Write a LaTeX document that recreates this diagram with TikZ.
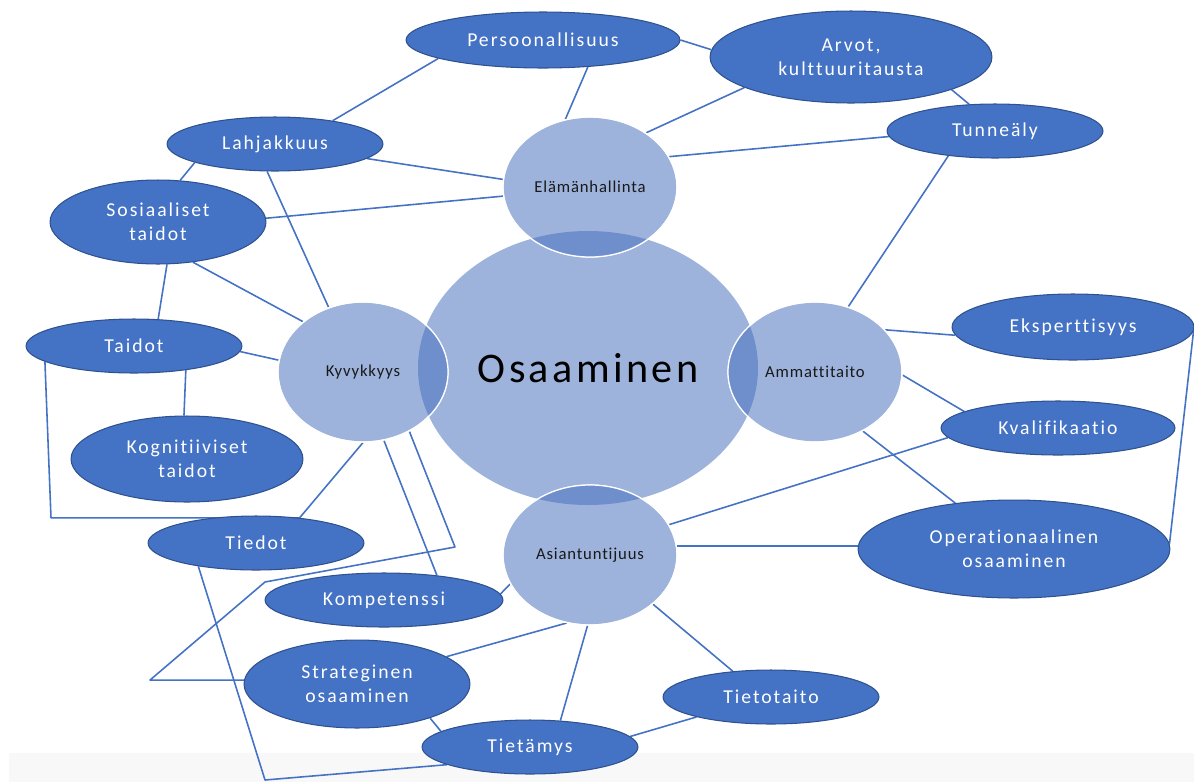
\documentclass[tikz,border=0pt]{standalone}
\usepackage{fontspec}
\setmainfont{Carlito}[Ligatures=NoCommon]
\newfontfamily\spacedfont{Carlito}[LetterSpace=10, Ligatures=NoCommon]
\newfontfamily\titlefont{Carlito}[LetterSpace=8, Ligatures=NoCommon]
\newfontfamily\areafont{Carlito}[LetterSpace=5, Ligatures=NoCommon]
\usetikzlibrary{shapes.geometric,backgrounds}
\definecolor{topicblue}{HTML}{4472C4}
\definecolor{topicedge}{HTML}{2F528F}
\definecolor{venn}{RGB}{158,179,220}
\definecolor{venndark}{RGB}{111,143,204}
\definecolor{band}{RGB}{248,248,248}
\begin{document}
\begin{tikzpicture}[x=0.02cm,y=-0.02cm,
  topic/.style 2 args={ellipse, inner sep=0pt, fill=topicblue, draw=topicedge,
    line width=0.6pt, text=white, align=center,
    minimum width=#1*0.04cm, minimum height=#2*0.04cm,
    font=\spacedfont\fontsize{11.2}{13.6}\selectfont},
  area/.style 2 args={ellipse, inner sep=0pt, fill=venn, draw=white,
    line width=0.7pt, text=black!90, align=center,
    minimum width=#1*0.04cm, minimum height=#2*0.04cm,
    font=\areafont\fontsize{9.5}{11}\selectfont},
  conn/.style={draw=topicblue, line width=0.9pt, line join=round}
]
\useasboundingbox (0,0) rectangle (1194,782);

% central Venn of competence areas
\node[area={170}{137}, draw=none, text=black,
      font=\titlefont\fontsize{24}{28}\selectfont] (osa) at (588,368) {Osaaminen};
\node[area={87}{70}] (ela) at (590,187) {Elämänhallinta};
\node[area={85}{70}] (kyv) at (363,372) {Kyvykkyys};
\node[area={87}{70}] (amm) at (815,372) {Ammattitaito};
\node[area={87}{70}] (asi) at (590,555) {Asiantuntijuus};

% darker lens where each area overlaps the centre
\begin{scope}
  \clip (osa.center) ellipse [x radius=170, y radius=137];
  \fill[venndark] (ela.center) ellipse [x radius=87, y radius=70];
  \fill[venndark] (kyv.center) ellipse [x radius=85, y radius=70];
  \fill[venndark] (amm.center) ellipse [x radius=87, y radius=70];
  \fill[venndark] (asi.center) ellipse [x radius=87, y radius=70];
\end{scope}
\begin{scope}[draw=white, line width=0.7pt]
  \draw (ela.center) ellipse [x radius=87, y radius=70];
  \draw (kyv.center) ellipse [x radius=85, y radius=70];
  \draw (amm.center) ellipse [x radius=87, y radius=70];
  \draw (asi.center) ellipse [x radius=87, y radius=70];
\end{scope}

% related concepts
\node[topic={137}{28}] (per) at (543,40)  {Persoonallisuus};
\node[topic={141}{46}] (arv) at (851,57)  {Arvot,\\kulttuuritausta};
\node[topic={108}{27}] (tun) at (995,131) {Tunneäly};
\node[topic={108}{27}] (lah) at (275,144) {Lahjakkuus};
\node[topic={108}{42}] (sos) at (158,222) {Sosiaaliset\\taidot};
\node[topic={108}{27}] (tai) at (134,346) {Taidot};
\node[topic={116}{43}] (kog) at (187,459) {Kognitiiviset\\taidot};
\node[topic={108}{27}] (tie) at (256,543) {Tiedot};
\node[topic={119}{27}] (kom) at (384,600) {Kompetenssi};
\node[topic={113}{44}] (str) at (357,684) {Strateginen\\osaaminen};
\node[topic={108}{27}] (tmy) at (530,747) {Tietämys};
\node[topic={108}{27}] (tto) at (771,697) {Tietotaito};
\node[topic={121}{33}] (eks) at (1073,327) {Eksperttisyys};
\node[topic={117}{27}] (kva) at (1058,428) {Kvalifikaatio};
\node[topic={156}{49}] (ope) at (1014,549) {Operationaalinen\\osaaminen};

\begin{scope}[on background layer]
  \fill[band] (9,753) rectangle (1194,782);
  \draw[conn] (lah.22) -- (per.-170);
  \draw[conn] (per.-31.5) -- (ela.110);
  \draw[conn] (per.0) -- (arv.177);
  \draw[conn] (arv.-164) -- (ela.44);
  \draw[conn] (tun.-177) -- (ela.21);
  \draw[conn] (arv.-18.6) -- (tun.134);
  \draw[conn] (tun.-152) -- (amm.63);
  \draw[conn] (lah.-9.3) -- (ela.175);
  \draw[conn] (sos.2.6) -- (ela.-174.7);
  \draw[conn] (lah.-106) -- (kyv.118);
  \draw[conn] (lah.-167.6) -- (sos.62);
  \draw[conn] (sos.-49.5) -- (kyv.140.5);
  \draw[conn] (sos.-78) -- (tai.48.5);
  \draw[conn] (tai.-3.2) -- (kyv.172.3);
  \draw[conn] (tai.-25.6) -- (kog.94);
  \draw[conn] (tai.-170.3) -- (51,0 |- tie.30) -- (tie.30);
  \draw[conn] (kyv.-90) -- (tie.30);
  \draw[conn] (kyv.-73) -- (kom.25);
  \draw[conn] (kyv.-52) -- (455,547) -- (265,582) -- (150,0 |- str.178) -- (str.178);
  \draw[conn] (tie.-158.5) -- (265,780) -- (tmy.-168);
  \draw[conn] (str.-25) -- (tmy.170.5);
  \draw[conn] (str.17.7) -- (asi.-109);
  \draw[conn] (kom.3.9) -- (asi.-160.7);
  \draw[conn] (tmy.41.8) -- (asi.-92.4);
  \draw[conn] (tmy.6.1) -- (tto.-165.6);
  \draw[conn] (asi.-38.7) -- (tto.146.3);
  \draw[conn] (asi.21.8) -- (kva.-175.6);
  \draw[conn] (asi.6) -- (asi.6 -| ope.west);
  \draw[conn] (amm.31.6) -- (eks.-176.2);
  \draw[conn] (amm.-2) -- (kva.170);
  \draw[conn] (amm.-51.7) -- (ope.142);
  \draw[conn] (eks.-2.9) -- (ope.2.6);
\end{scope}
\end{tikzpicture}
\end{document}
